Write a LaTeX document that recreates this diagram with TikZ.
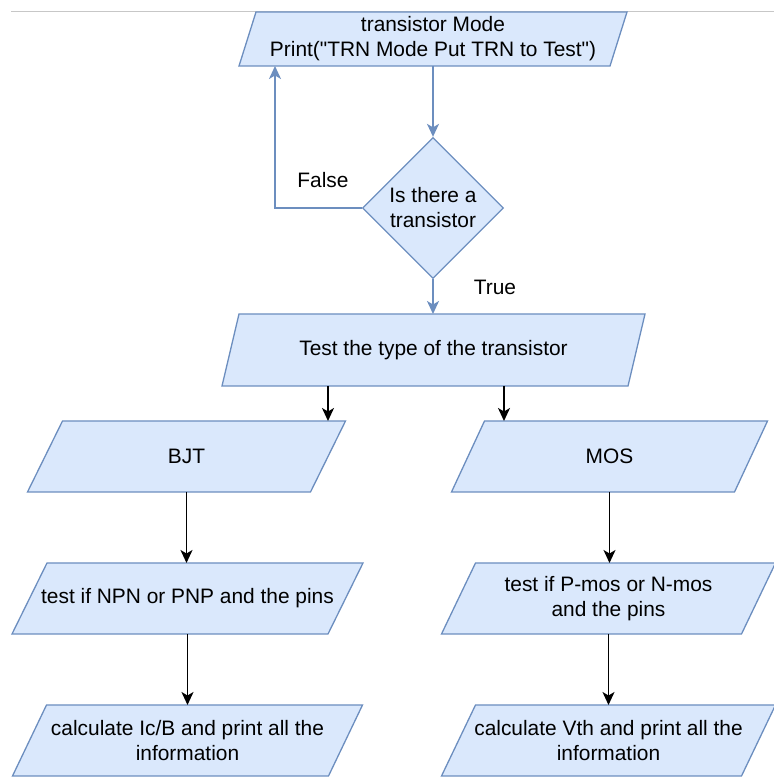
\documentclass[tikz,border=0pt]{standalone}
\usepackage{fontspec}
\newfontfamily\chartfont{Liberation Sans}
\usetikzlibrary{arrows.meta,calc,shapes.geometric}
\definecolor{iofill}{HTML}{DAE8FC}
\definecolor{ioline}{HTML}{6C8EBF}
\newcommand{\iobox}[6]{\draw[io] ($(#2)+(-#3-#5,-#4)$)--($(#2)+(#3-#5,-#4)$)--($(#2)+(#3+#5,#4)$)--($(#2)+(-#3+#5,#4)$)--cycle;
\node[txt,minimum width=2*#3,minimum height=2*#4] (#1) at (#2) {#6};}
\tikzset{>={Stealth[length=13pt,width=12pt,inset=3.5pt]},every node/.style={font=\chartfont\fontsize{20.9}{25}\selectfont},io/.style={draw=ioline,fill=iofill,line width=1.3pt},txt/.style={inner sep=0,outer sep=0,align=center},dec/.style={diamond,aspect=1,draw=ioline,fill=iofill,line width=1.3pt,minimum width=141pt,minimum height=141pt,inner sep=0,align=center},flow/.style={ioline,line width=1.6pt,->},flowk/.style={black,line width=1.7pt,->}}
\begin{document}
\begin{tikzpicture}[x=1pt,y=1pt]
\useasboundingbox (0,0) rectangle (774,777);\clip (0,0) rectangle (774,777);
\draw[black!22,line width=0.9pt] (11,766)--(774,766);
\iobox{mode}{433,738}{185.5}{27}{8.5}{\raisebox{-3pt}{transistor Mode}\\\raisebox{-3pt}{Print("TRN Mode Put TRN to Test")}}
\node[dec] (dec) at (433,569) {Is there a\\transistor};
\iobox{test}{433.5,427}{203}{36}{8.5}{Test the type of the transistor}
\iobox{bjt}{186.5,320.5}{141.5}{35.5}{17.5}{BJT}
\iobox{mos}{609.5,320.5}{141.5}{35.5}{16.5}{MOS}
\iobox{btest}{187.5,178.5}{158}{35.5}{17.5}{test if NPN or PNP and the pins}
\iobox{mtest}{608.5,178.5}{150}{35.5}{17}{test if P-mos or N-mos\\and the pins}
\iobox{bcalc}{187.5,36.5}{158}{35.5}{17}{calculate Ic/B and print all the\\information}
\iobox{mcalc}{608.5,36.5}{150}{35.5}{17}{calculate Vth and print all the\\information}
\draw[flow] (mode.south)--(dec.north);\draw[flow] (dec.south)--(dec.south |- test.north);
\draw[flow] (dec.west)-|([xshift=-158pt]mode.south);
\node (no) at (323,597) {False};\node (yes) at (495,490) {True};
\draw[flowk] ([xshift=-105.5pt]test.south)--([xshift=-105.5pt]test.south |- bjt.north);
\draw[flowk] ([xshift=70.5pt]test.south)--([xshift=70.5pt]test.south |- mos.north);
\draw[flowk] (bjt.south)--(bjt.south |- btest.north);\draw[flowk] (btest.south)--(bcalc.north);
\draw[flowk] (mos.south)--(mos.south |- mtest.north);\draw[flowk] (mtest.south)--(mcalc.north);
\end{tikzpicture}
\end{document}
